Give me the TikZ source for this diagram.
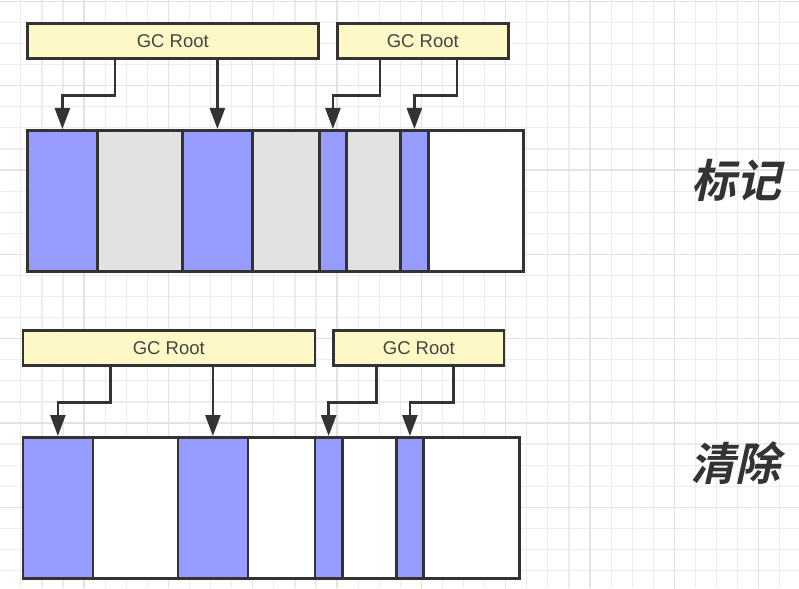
\documentclass[tikz,border=0pt]{standalone}
\usepackage{fontspec}
\setmainfont{Liberation Sans}
\newfontfamily\cjk[FakeSlant=0.22]{Noto Sans CJK SC Bold}
\usetikzlibrary{arrows.meta}
\definecolor{ink}{HTML}{333333}
\definecolor{gctext}{HTML}{444444}
\definecolor{gcyellow}{HTML}{FDF8C6}
\definecolor{liveblue}{HTML}{999CFF}
\definecolor{deadgray}{HTML}{E2E2E2}
\definecolor{gridminor}{HTML}{ECECEC}
\definecolor{gridmajor}{HTML}{E2E2E2}
\tikzset{
  gcbox/.style={draw=ink, line width=2.6pt, fill=gcyellow, inner sep=0pt,
    anchor=north west, minimum height=35pt, text=gctext, font=\fontsize{18.5}{18.5}\selectfont},
  cellbox/.style={draw=ink, line width=2.8pt, inner sep=0pt, anchor=north west, minimum height=141pt},
  live/.style={cellbox, fill=liveblue},
  dead/.style={cellbox, fill=deadgray},
  free/.style={cellbox, fill=white},
  ptr/.style={draw=ink, line width=2.6pt, -{Triangle[length=21pt,width=15pt]}},
  biglabel/.style={text=ink, font=\cjk\fontsize{45}{45}\selectfont, inner sep=0pt},
  minorline/.style={draw=gridminor, line width=1.2pt},
  majorline/.style={draw=gridmajor, line width=1.3pt}
}
\begin{document}
\begin{tikzpicture}[x=1pt,y=-1pt]
\useasboundingbox (0,0) rectangle (799,588);
\fill[white] (0,0) rectangle (799,588);
% grid
\foreach \i in {0,...,38} {
  \draw[minorline] ({-0.2+21.08*\i},0) -- ({-0.2+21.08*\i},588);
}
\foreach \i in {0,...,27} {
  \draw[minorline] (0,{1.4+21.08*\i}) -- (799,{1.4+21.08*\i});
}
\foreach \i in {0,...,9} {
  \draw[majorline] ({-0.2+84.32*\i},0) -- ({-0.2+84.32*\i},588);
}
\foreach \i in {0,...,6} {
  \draw[majorline] (0,{1.4+84.32*\i}) -- (799,{1.4+84.32*\i});
}

% ---------- top: mark ----------
\node[gcbox, minimum width=291pt] (ga) at (26,22) {GC Root};
\node[gcbox, minimum width=171pt] (gb) at (336,22) {GC Root};
\node[live, minimum width=70pt] (a1) at (26,129) {};
\node[dead, minimum width=85pt] (a2) at (96,129) {};
\node[live, minimum width=70pt] (a3) at (181,129) {};
\node[dead, minimum width=67pt] (a4) at (251,129) {};
\node[live, minimum width=27pt] (a5) at (318,129) {};
\node[dead, minimum width=54pt] (a6) at (345,129) {};
\node[live, minimum width=28pt] (a7) at (399,129) {};
\node[free, minimum width=95pt] (a8) at (427,129) {};
\draw[ptr] ([xshift=89pt]ga.south west) -- ++(0,36) -| (a1.north);
\draw[ptr] (a3.north |- ga.south) -- (a3.north);
\draw[ptr] ([xshift=44pt]gb.south west) -- ++(0,36) -| (a5.north);
\draw[ptr] ([xshift=121pt]gb.south west) -- ++(0,36) -| (a7.north);
\node[biglabel] (marklabel) at (736,180) {标记};

% ---------- bottom: sweep ----------
\node[gcbox, minimum width=292pt] (gc) at (21.5,329) {GC Root};
\node[gcbox, minimum width=170.5pt] (gd) at (332.3,329) {GC Root};
\node[live, minimum width=70pt] (b1) at (21.5,436) {};
\node[free, minimum width=85pt] (b2) at (91.5,436) {};
\node[live, minimum width=70pt] (b3) at (176.5,436) {};
\node[free, minimum width=67pt] (b4) at (246.5,436) {};
\node[live, minimum width=27.5pt] (b5) at (313.5,436) {};
\node[free, minimum width=54pt] (b6) at (341,436) {};
\node[live, minimum width=27pt] (b7) at (395,436) {};
\node[free, minimum width=96pt] (b8) at (422,436) {};
\draw[ptr] ([xshift=89pt]gc.south west) -- ++(0,36) -| (b1.north);
\draw[ptr] (b3.north |- gc.south) -- (b3.north);
\draw[ptr] ([xshift=44pt]gd.south west) -- ++(0,36) -| (b5.north);
\draw[ptr] ([xshift=121pt]gd.south west) -- ++(0,36) -| (b7.north);
\node[biglabel] (sweeplabel) at (735,463) {清除};
\end{tikzpicture}
\end{document}
